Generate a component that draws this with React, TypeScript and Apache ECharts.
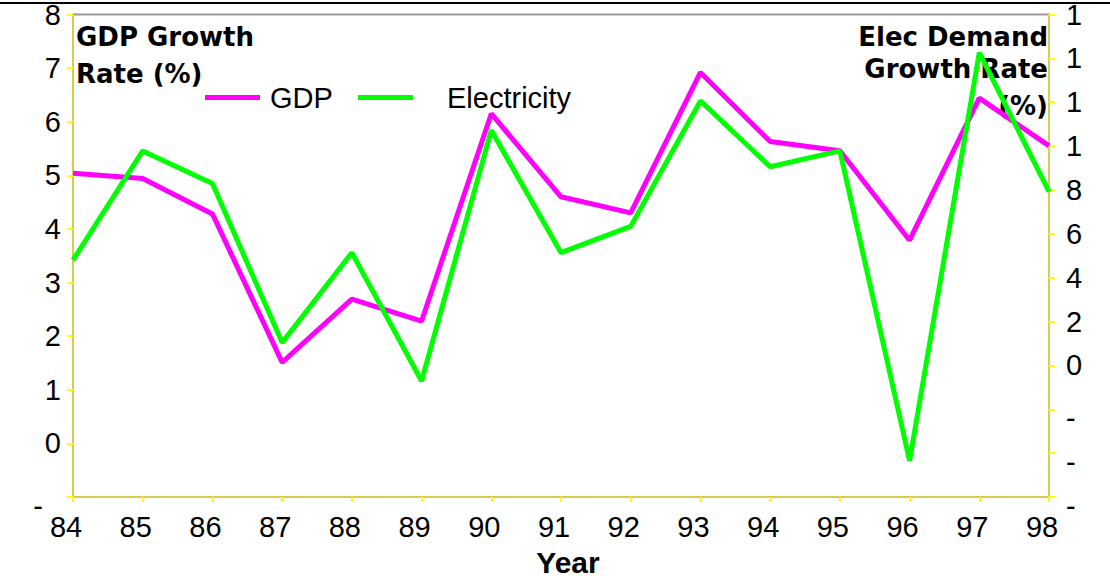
import React, { useEffect, useRef } from "react";
import * as echarts from "echarts";

const years = ["84", "85", "86", "87", "88", "89", "90", "91", "92", "93", "94", "95", "96", "97", "98"];
const gdpGrowth = [5.04, 4.94, 4.28, 1.51, 2.69, 2.28, 6.15, 4.6, 4.3, 6.92, 5.63, 5.46, 3.79, 6.44, 5.55];
const elecGrowth = [4.8, 9.78, 8.29, 1.04, 5.14, -0.71, 10.72, 5.14, 6.34, 12.06, 9.06, 9.78, -4.35, 14.26, 7.92];
const leftTitle = ["GDP Growth", "Rate (%)"];
const rightTitle = ["Elec Demand", "Growth Rate", "(%)"];
const xTitle = "Year";

const NUM_FONT = "'Liberation Sans', Arial, sans-serif";
const TITLE_FONT = "'DejaVu Sans', Verdana, sans-serif";

function shortLabel(v: number): string {
  if (v < 0) return "{neg|-}";
  const s = String(v);
  return s.length > 1 ? s[0] : s;
}

export default function App() {
  const ref = useRef<HTMLDivElement>(null);
  useEffect(() => {
    if (!ref.current) return;
    const chart = echarts.init(ref.current, null, { renderer: "svg" });
    const axisColor = "#d8cc4c";
    chart.setOption({
      animation: false,
      backgroundColor: "#ffffff",
      grid: {
        left: 73,
        right: 61,
        top: 14,
        bottom: 84,
        show: true,
        borderColor: "#9a9a9a",
        borderWidth: 2,
        backgroundColor: "transparent",
      },
      legend: [
        {
          data: ["GDP"],
          left: 205,
          top: 83,
          padding: 0,
          icon: "rect",
          itemWidth: 55,
          itemHeight: 5,
          textStyle: { fontFamily: NUM_FONT, fontSize: 29, color: "#000", padding: [0, 0, 0, 5] },
        },
        {
          data: ["Electricity"],
          left: 358,
          top: 83,
          padding: 0,
          icon: "rect",
          itemWidth: 55,
          itemHeight: 5,
          textStyle: { fontFamily: NUM_FONT, fontSize: 29, color: "#000", padding: [0, 0, 0, 29] },
        },
      ],
      xAxis: {
        type: "category",
        data: years,
        boundaryGap: false,
        axisLine: { show: true, onZero: false, lineStyle: { color: axisColor, width: 2 } },
        axisTick: { show: true, alignWithLabel: true, length: 5, lineStyle: { color: "#ffff00", width: 2 } },
        axisLabel: {
          color: "#000",
          fontFamily: NUM_FONT,
          fontSize: 29,
          margin: 15,
          padding: [0, 14, 0, 0],
        },
        splitLine: { show: false },
      },
      yAxis: [
        {
          type: "value",
          min: -1,
          max: 8,
          interval: 1,
          position: "left",
          axisLine: { show: true, lineStyle: { color: axisColor, width: 2 } },
          axisTick: { show: true, length: 6, lineStyle: { color: "#ffff00", width: 2 } },
          splitLine: { show: false },
          axisLabel: {
            color: "#000",
            fontFamily: NUM_FONT,
            fontSize: 29,
            margin: 12,
            formatter: (v: number) => shortLabel(v),
            rich: { neg: { fontFamily: NUM_FONT, fontSize: 29, color: "#000", padding: [18, 18, 0, 0] } },
          },
        },
        {
          type: "value",
          min: -6,
          max: 16,
          interval: 2,
          position: "right",
          axisLine: { show: true, lineStyle: { color: axisColor, width: 2 } },
          axisTick: { show: true, length: 6, inside: false, lineStyle: { color: "#ffff00", width: 2 } },
          splitLine: { show: false },
          axisLabel: {
            color: "#000",
            fontFamily: NUM_FONT,
            fontSize: 29,
            margin: 17,
            formatter: (v: number) => shortLabel(v),
            rich: { neg: { fontFamily: NUM_FONT, fontSize: 29, color: "#000", padding: [18, 0, 0, 0] } },
          },
        },
      ],
      series: [
        {
          name: "GDP",
          type: "line",
          yAxisIndex: 0,
          data: gdpGrowth,
          showSymbol: false,
          symbol: "none",
          lineStyle: { color: "#ff00ff", width: 5 },
          itemStyle: { color: "#ff00ff" },
          z: 3,
        },
        {
          name: "Electricity",
          type: "line",
          yAxisIndex: 1,
          data: elecGrowth,
          showSymbol: false,
          symbol: "none",
          lineStyle: { color: "#00ff00", width: 5 },
          itemStyle: { color: "#00ff00" },
          z: 4,
        },
      ],
      graphic: [
        {
          type: "line",
          shape: { x1: 0, y1: 3, x2: 1110, y2: 3 },
          style: { stroke: "#000", lineWidth: 2 },
        },
        {
          type: "text",
          left: 76,
          top: 24,
          style: { text: leftTitle[0], font: `bold 26px ${TITLE_FONT}`, fill: "#000" },
        },
        {
          type: "text",
          left: 76,
          top: 61,
          style: { text: leftTitle[1], font: `bold 26px ${TITLE_FONT}`, fill: "#000" },
        },
        {
          type: "text",
          right: 62,
          top: 24,
          style: { text: rightTitle[0], font: `bold 26px ${TITLE_FONT}`, fill: "#000" },
        },
        {
          type: "text",
          right: 62,
          top: 56,
          style: { text: rightTitle[1], font: `bold 26px ${TITLE_FONT}`, fill: "#000" },
        },
        {
          type: "text",
          right: 62,
          top: 93,
          style: { text: rightTitle[2], font: `bold 26px ${TITLE_FONT}`, fill: "#000" },
        },
        {
          type: "text",
          x: 568,
          y: 562,
          style: {
            text: xTitle,
            font: `bold 30px ${NUM_FONT}`,
            fill: "#000",
            align: "center",
            verticalAlign: "middle",
          },
        },
      ],
    });
    return () => chart.dispose();
  }, []);
  return (
    <div
      ref={ref}
      style={{ position: "fixed", left: 0, top: 0, width: 1110, height: 581, background: "#fff" }}
    />
  );
}
